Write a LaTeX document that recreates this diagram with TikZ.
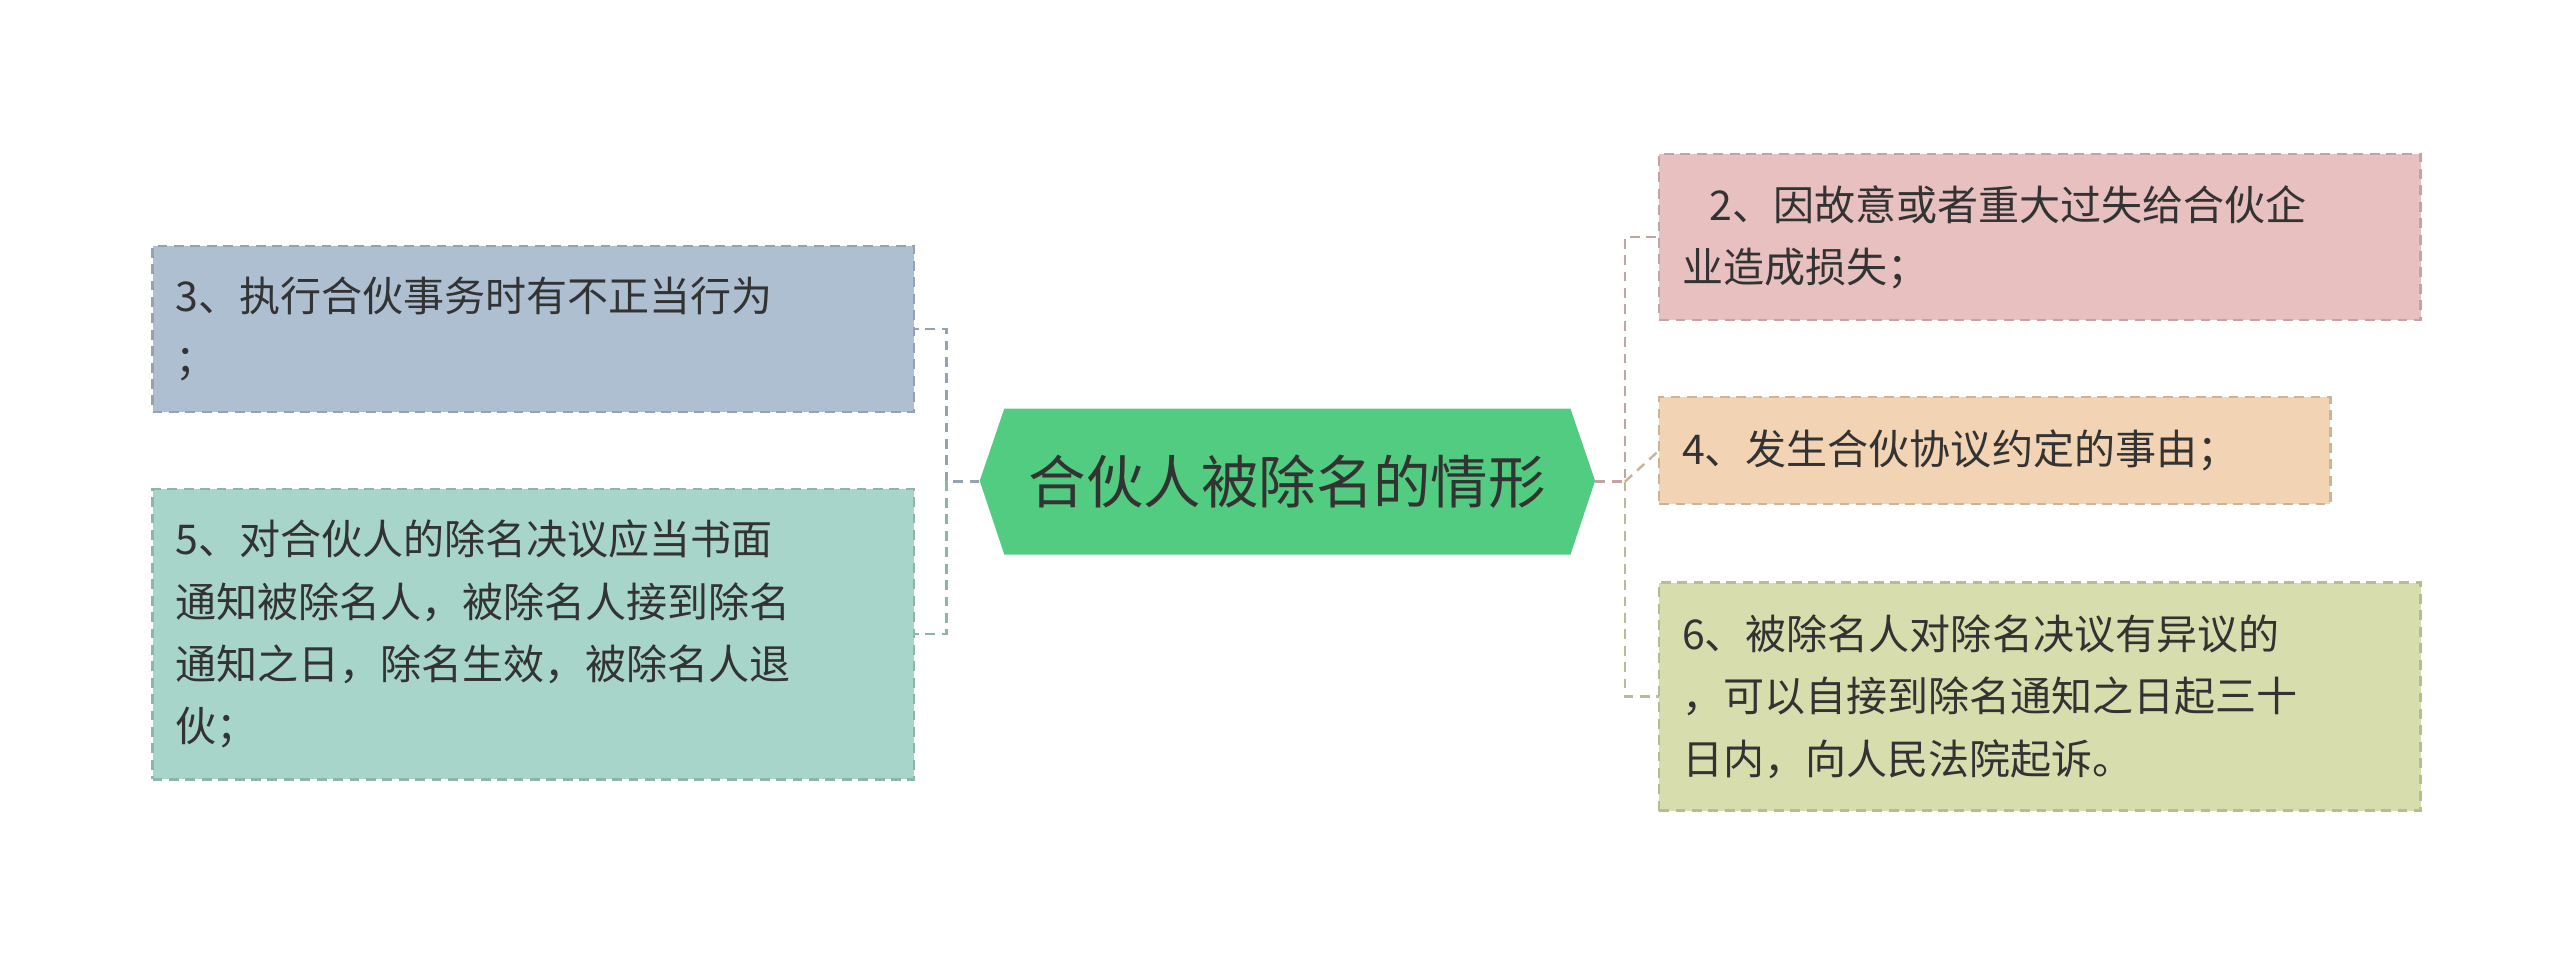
\documentclass[tikz,border=0pt]{standalone}
\usepackage{fontspec}
\setmainfont{Noto Sans CJK SC}
\usetikzlibrary{positioning}
\definecolor{hexg}{HTML}{52CC80}
\definecolor{bblue}{HTML}{AEBFD1}
\definecolor{bteal}{HTML}{A8D5C9}
\definecolor{bpink}{HTML}{E8C0C0}
\definecolor{borange}{HTML}{F2D3B3}
\definecolor{bolive}{HTML}{D8DDAE}
\definecolor{txt}{HTML}{333333}
\tikzset{
  leaf/.style={draw=#1!85!black, fill=#1, line width=1.5pt, dash pattern=on 6pt off 4pt,
    anchor=north west, align=left, text=txt, inner xsep=14pt, inner ysep=0pt, outer sep=0pt,
    font=\fontsize{25}{38}\selectfont},
  link/.style={draw=#1!85!black, line width=1.5pt, dash pattern=on 6pt off 4pt}
}
\begin{document}
\begin{tikzpicture}[x=1pt,y=-1pt]
  \useasboundingbox (0,0) rectangle (1560,585);
  % centre
  \fill[hexg] (597,293) -- (612,249) -- (957,249) -- (972,293) -- (957,338) -- (612,338) -- cycle;
  \node[text=txt, font=\fontsize{35}{40}\selectfont, minimum width=375pt, minimum height=89pt, inner sep=0pt] (main) at (784.5,293.5) {合伙人被除名的情形};
  % left
  \node[leaf=bblue, minimum width=464pt, minimum height=101pt, text width=436pt] (l1) at (93,150) {3、执行合伙事务时有不正当行为\\；};
  \node[leaf=bteal, minimum width=464pt, minimum height=177pt, text width=436pt] (l2) at (93,298) {5、对合伙人的除名决议应当书面\\通知被除名人，被除名人接到除名\\通知之日，除名生效，被除名人退\\伙；};
  % right
  \node[leaf=bpink, minimum width=464pt, minimum height=101pt, text width=436pt] (r1) at (1011,94) {\ \ 2、因故意或者重大过失给合伙企\\业造成损失；};
  \node[leaf=borange, minimum width=409pt, minimum height=65pt, text width=381pt] (r2) at (1011,242) {4、发生合伙协议约定的事由；};
  \node[leaf=bolive, minimum width=464pt, minimum height=139pt, text width=436pt] (r3) at (1011,355) {6、被除名人对除名决议有异议的\\，可以自接到除名通知之日起三十\\日内，向人民法院起诉。};
  % connectors
  \draw[link=bblue] (main.west) -- ++(-20,0) |- (l1.east);
  \draw[link=bteal] (main.west) ++(-20,0) |- (l2.east);
  \draw[link=bpink] (main.east) -- ++(18,0) |- (r1.west);
  \draw[link=borange] (main.east) ++(18,0) -- (r2.west);
  \draw[link=bolive] (main.east) ++(18,0) |- (r3.west);
\end{tikzpicture}
\end{document}
